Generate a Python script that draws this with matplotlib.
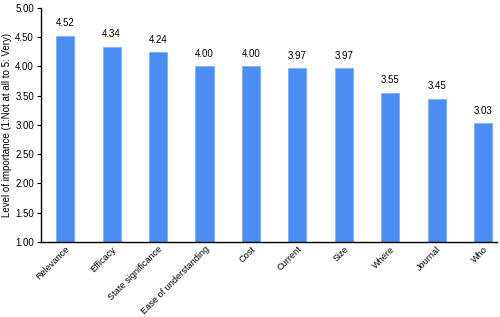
import matplotlib
matplotlib.use("Agg")
import matplotlib.pyplot as plt

categories = ["Relevance", "Efficacy", "State significance", "Ease of understanding",
              "Cost", "Current", "Size", "Where", "Journal", "Who"]
values = [4.52, 4.34, 4.24, 4.00, 4.00, 3.97, 3.97, 3.55, 3.45, 3.03]
yticks = [1.00, 1.50, 2.00, 2.50, 3.00, 3.50, 4.00, 4.50, 5.00]

plt.rcParams['font.family'] = ['Liberation Sans', 'DejaVu Sans']

fig = plt.figure(figsize=(5, 3.17), dpi=100)
ax = fig.add_axes([0.082, 0.237, 0.912, 0.738])
x = list(range(len(categories)))
bars = ax.bar(x, [v - 1 for v in values], bottom=1, width=0.39,
              color="#4A8EF3", edgecolor="#7FB0F7", linewidth=0.6)
for xi, v in zip(x, values):
    ax.text(xi, v + 0.13, f"{v:.2f}", ha="center", va="bottom", fontsize=7)

ax.set_ylim(1, 5)
ax.set_xlim(-0.52, 9.3)
ax.set_yticks(yticks)
ax.set_yticklabels([f"{t:.2f}" for t in yticks], fontsize=7)
ax.set_xticks(x)
ax.set_xticklabels(categories, rotation=45, ha="right", rotation_mode="anchor", fontsize=6.6)
ax.tick_params(axis="x", length=0, pad=2)
ax.tick_params(axis="y", length=3, width=0.8, pad=2)
ax.set_ylabel("Level of importance (1:Not at all to 5: Very)", fontsize=7, labelpad=2.5)
for s in ["top", "right"]:
    ax.spines[s].set_visible(False)
for s in ["left", "bottom"]:
    ax.spines[s].set_linewidth(1.0)

fig.savefig("out.png", dpi=100)
